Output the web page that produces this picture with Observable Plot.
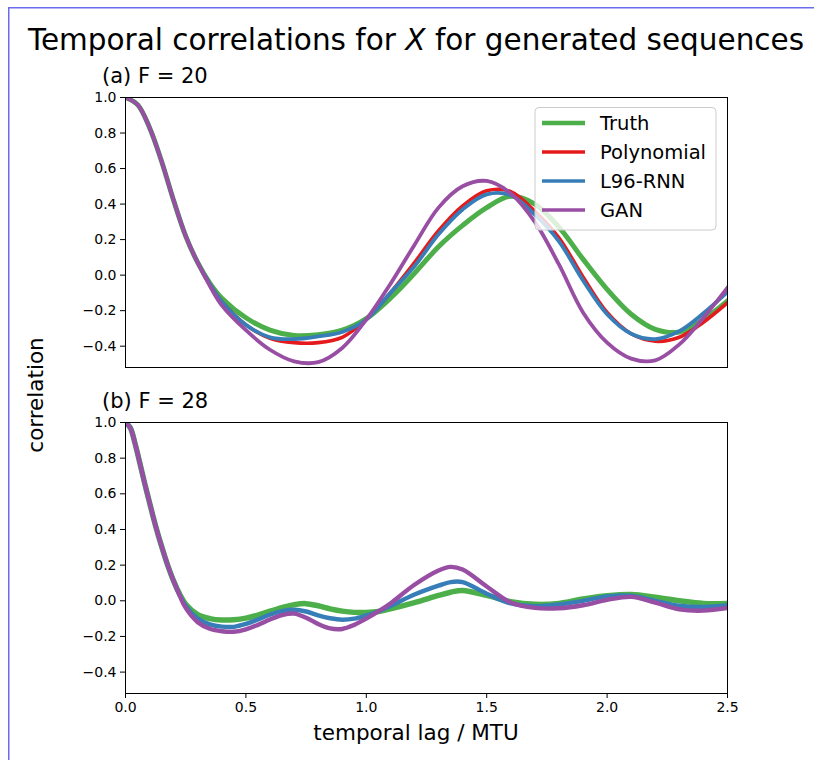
<!DOCTYPE html>
<html><head><meta charset="utf-8">
<script src="https://cdn.jsdelivr.net/npm/d3@7"></script>
<script src="https://cdn.jsdelivr.net/npm/@observablehq/plot@0.6"></script>
<style>
body{margin:0;background:#fff;}
#fig{position:relative;width:814px;height:760px;overflow:hidden;background:#fff;font-family:"DejaVu Sans",sans-serif;}
#fig svg{position:absolute;left:0;}
</style></head>
<body><div id="fig"></div>
<script>
// ---------- data ----------
const seriesNames = ["Truth", "Polynomial", "L96-RNN", "GAN"];
const seriesColors = ["#4daf4a", "#e41a1c", "#377eb8", "#984ea3"];
const xTicks = [0, 0.5, 1.0, 1.5, 2.0, 2.5];
const yTicks = [-0.4, -0.2, 0.0, 0.2, 0.4, 0.6, 0.8, 1.0];

// (a) F = 20
const lagA = [0, 0.05, 0.1, 0.15, 0.2, 0.25, 0.3, 0.35, 0.4, 0.5, 0.6, 0.7, 0.8, 0.9, 1.0,
  1.1, 1.2, 1.3, 1.4, 1.5, 1.6, 1.7, 1.8, 1.9, 2.0, 2.1, 2.2, 2.3, 2.4, 2.5];
const truthA = [1.0, 0.96, 0.83, 0.64, 0.42, 0.22, 0.07, -0.045, -0.13, -0.24, -0.31, -0.34, -0.335, -0.31, -0.245,
  -0.13, 0.01, 0.16, 0.28, 0.38, 0.444, 0.40, 0.27, 0.09, -0.08, -0.22, -0.305, -0.32, -0.25, -0.145];
const polyA = [1.0, 0.96, 0.83, 0.64, 0.42, 0.22, 0.07, -0.05, -0.15, -0.28, -0.355, -0.38, -0.38, -0.35, -0.25,
  -0.10, 0.07, 0.25, 0.39, 0.475, 0.47, 0.36, 0.21, -0.01, -0.21, -0.33, -0.372, -0.35, -0.265, -0.155];
const rnnA = [1.0, 0.96, 0.83, 0.64, 0.42, 0.22, 0.07, -0.05, -0.15, -0.28, -0.35, -0.36, -0.345, -0.32, -0.25,
  -0.10, 0.05, 0.23, 0.37, 0.455, 0.45, 0.34, 0.19, -0.03, -0.22, -0.33, -0.36, -0.315, -0.215, -0.095];
const ganA = [1.0, 0.96, 0.83, 0.64, 0.42, 0.22, 0.07, -0.06, -0.17, -0.31, -0.42, -0.485, -0.49, -0.41, -0.25,
  -0.05, 0.17, 0.38, 0.50, 0.53, 0.46, 0.30, 0.06, -0.21, -0.38, -0.47, -0.48, -0.39, -0.24, -0.07];

// (b) F = 28
const lagB = [0, 0.02, 0.04, 0.06, 0.08, 0.1, 0.125, 0.15, 0.175, 0.2, 0.225, 0.25, 0.3, 0.35, 0.4, 0.45,
  0.5, 0.55, 0.6, 0.65, 0.7, 0.75, 0.8, 0.85, 0.9, 0.95, 1.0, 1.05, 1.1, 1.2, 1.3, 1.35, 1.4, 1.5,
  1.6, 1.7, 1.8, 1.9, 2.0, 2.1, 2.2, 2.3, 2.4, 2.5];
const truthB = [1.0, 0.97, 0.88, 0.77, 0.657, 0.55, 0.42, 0.305, 0.2, 0.11, 0.037, -0.02, -0.078, -0.1, -0.108, -0.106,
  -0.097, -0.08, -0.058, -0.038, -0.022, -0.016, -0.028, -0.045, -0.058, -0.065, -0.065, -0.06, -0.045, -0.01, 0.03, 0.048, 0.058, 0.03,
  -0.005, -0.02, -0.015, 0.01, 0.028, 0.035, 0.02, 0.0, -0.015, -0.015];
const rnnB = [1.0, 0.97, 0.88, 0.77, 0.657, 0.55, 0.42, 0.305, 0.2, 0.11, 0.033, -0.03, -0.1, -0.132, -0.145, -0.146,
  -0.13, -0.105, -0.078, -0.058, -0.05, -0.06, -0.082, -0.098, -0.106, -0.10, -0.082, -0.06, -0.03, 0.035, 0.085, 0.105, 0.105, 0.04,
  -0.015, -0.03, -0.02, 0.0, 0.025, 0.028, 0.0, -0.028, -0.035, -0.025];
const ganB = [1.0, 0.97, 0.88, 0.77, 0.657, 0.55, 0.42, 0.305, 0.2, 0.11, 0.03, -0.04, -0.12, -0.157, -0.171, -0.174,
  -0.16, -0.135, -0.105, -0.08, -0.072, -0.095, -0.13, -0.155, -0.158, -0.135, -0.10, -0.06, -0.015, 0.09, 0.17, 0.19, 0.175, 0.08,
  -0.01, -0.04, -0.042, -0.025, 0.005, 0.022, -0.01, -0.048, -0.055, -0.04];

// ---------- build ----------
const fmt = d3.format(".1f");
const fig = document.getElementById("fig");
const W = 814;

function tidy(lags, values) { return lags.map((l, i) => ({lag: l, value: values[i]})); }
function lineMarks(list, widths) {
  return list.map(([vals, lags, idx]) => Plot.line(tidy(lags, vals), {
    x: "lag", y: "value", stroke: seriesColors[idx],
    strokeWidth: widths[idx],
    curve: "catmull-rom", clip: true
  }));
}
const baseStyle = {fontFamily: "DejaVu Sans", fontSize: "14px", color: "#000", background: "transparent", overflow: "visible"};

const plotA = Plot.plot({
  width: W, height: 290,
  marginLeft: 125, marginRight: 87, marginTop: 10, marginBottom: 10,
  style: baseStyle,
  x: {domain: [0, 2.5], axis: null},
  y: {domain: [-0.52, 1.0], axis: null},
  marks: [
    ...lineMarks([[truthA, lagA, 0], [polyA, lagA, 1], [rnnA, lagA, 2], [ganA, lagA, 3]], [5, 3.6, 3.8, 3.8]),
    Plot.frame({stroke: "#000", strokeWidth: 1}),
    Plot.axisY({ticks: yTicks, tickFormat: fmt, tickSize: 5, tickPadding: 4, label: null, fontSize: 14})
  ]
});
plotA.style.top = "87px";
fig.appendChild(plotA);

const plotB = Plot.plot({
  width: W, height: 321,
  marginLeft: 125, marginRight: 87, marginTop: 10, marginBottom: 40,
  style: baseStyle,
  x: {domain: [0, 2.5], axis: null},
  y: {domain: [-0.52, 1.0], axis: null},
  marks: [
    ...lineMarks([[truthB, lagB, 0], [rnnB, lagB, 2], [ganB, lagB, 3]], [5.5, 3.6, 4.4, 4.4]),
    Plot.frame({stroke: "#000", strokeWidth: 1}),
    Plot.axisY({ticks: yTicks, tickFormat: fmt, tickSize: 5, tickPadding: 4, label: null, fontSize: 14}),
    Plot.axisX({ticks: xTicks, tickFormat: fmt, tickSize: 5, tickPadding: 4, label: null, fontSize: 14})
  ]
});
plotB.style.top = "412px";
fig.appendChild(plotB);

// ---------- overlay: titles, labels, legend, border ----------
const ns = "http://www.w3.org/2000/svg";
const ov = document.createElementNS(ns, "svg");
ov.setAttribute("width", W); ov.setAttribute("height", 760);
ov.style.top = "0px"; ov.style.fontFamily = "DejaVu Sans";
fig.appendChild(ov);
function el(tag, attrs, parent = ov) {
  const e = document.createElementNS(ns, tag);
  for (const k in attrs) e.setAttribute(k, attrs[k]);
  parent.appendChild(e); return e;
}
function txt(s, attrs, parent = ov) { const t = el("text", attrs, parent); t.textContent = s; return t; }

// border lines
el("line", {x1: 8.75, y1: 7, x2: 8.75, y2: 760, stroke: "#6b6bee", "stroke-width": 1.5});
el("line", {x1: 8, y1: 7.75, x2: 814, y2: 7.75, stroke: "#6b6bee", "stroke-width": 1.5});

// title
const tt = el("text", {x: 416, y: 50, "text-anchor": "middle", "font-size": 29.5, fill: "#000"});
tt.appendChild(document.createTextNode("Temporal correlations for "));
const ti = el("tspan", {"font-style": "italic"}, tt); ti.textContent = "X";
tt.appendChild(document.createTextNode(" for generated sequences"));

txt("(a) F = 20", {x: 102, y: 83, "font-size": 21, fill: "#000"});
txt("(b) F = 28", {x: 102, y: 408, "font-size": 21, fill: "#000"});
txt("correlation", {x: 0, y: 0, "font-size": 21.5, fill: "#000", "text-anchor": "middle",
  transform: "translate(43,395) rotate(-90)"});
txt("temporal lag / MTU", {x: 416, y: 740, "font-size": 21.5, fill: "#000", "text-anchor": "middle"});

// legend
el("rect", {x: 535, y: 107.5, width: 181, height: 122.5, rx: 4, fill: "#fff", "fill-opacity": 0.8, stroke: "#cccccc", "stroke-width": 1});
const rowY = [123, 152, 181, 210];
seriesNames.forEach((name, i) => {
  el("line", {x1: 542, x2: 585, y1: rowY[i], y2: rowY[i], stroke: seriesColors[i], "stroke-width": i === 0 ? 4.7 : 3.3});
  txt(name, {x: 600, y: rowY[i] + 7, "font-size": 19.5, fill: "#000"});
});
</script>
</body></html>
